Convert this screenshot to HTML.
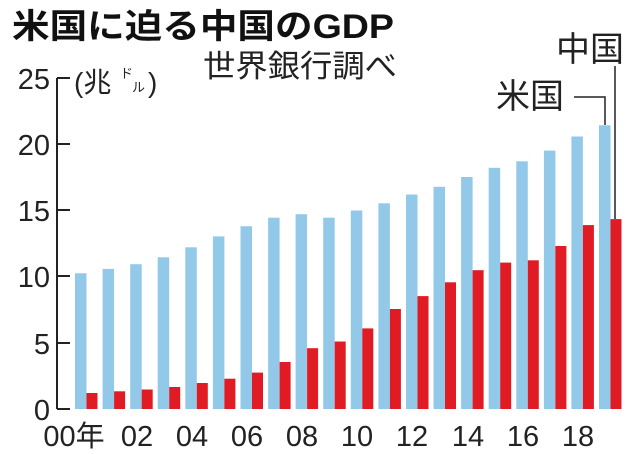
<!DOCTYPE html>
<html><head><meta charset="utf-8"><style>html,body{margin:0;padding:0;background:#fff}svg{display:block}</style></head>
<body>
<svg width="640" height="454" xmlns="http://www.w3.org/2000/svg" font-family="'Liberation Sans','Noto Sans CJK JP',sans-serif">
<rect width="640" height="454" fill="#fff"/>
<text x="12" y="38" font-size="34" font-weight="bold" textLength="382" lengthAdjust="spacingAndGlyphs" fill="#111">米国に迫る中国のGDP</text>
<text x="203" y="77" font-size="31" textLength="194" lengthAdjust="spacingAndGlyphs" fill="#222">世界銀行調べ</text>
<text x="74" y="92" font-size="28" fill="#222">(兆</text>
<text x="120" y="78" font-size="13" fill="#222">ド</text>
<text x="132" y="92" font-size="13" fill="#222">ル</text>
<text x="148" y="92" font-size="28" fill="#222">)</text>
<g font-size="29" fill="#222" text-anchor="end">
<text x="50" y="89">25</text><text x="50" y="155">20</text><text x="50" y="221">15</text><text x="50" y="287">10</text><text x="50" y="354">5</text><text x="50" y="420">0</text>
</g>
<g stroke="#222" stroke-width="2" fill="none">
<path d="M57 78 V409 M57 78 H70 M57 144 H70 M57 210 H70 M57 276 H70 M57 343 H70 M57 409 H70"/>
</g>
<g fill="#93c9e8">
<rect x="75.0" y="273.3" width="11.5" height="135.7"/>
<rect x="102.6" y="268.9" width="11.5" height="140.1"/>
<rect x="130.2" y="264.2" width="11.5" height="144.8"/>
<rect x="157.7" y="257.3" width="11.5" height="151.7"/>
<rect x="185.3" y="247.3" width="11.5" height="161.7"/>
<rect x="212.9" y="236.4" width="11.5" height="172.6"/>
<rect x="240.5" y="226.2" width="11.5" height="182.8"/>
<rect x="268.1" y="217.7" width="11.5" height="191.3"/>
<rect x="295.6" y="214.2" width="11.5" height="194.8"/>
<rect x="323.2" y="217.7" width="11.5" height="191.3"/>
<rect x="350.8" y="210.5" width="11.5" height="198.5"/>
<rect x="378.4" y="203.3" width="11.5" height="205.7"/>
<rect x="406.0" y="194.5" width="11.5" height="214.5"/>
<rect x="433.5" y="186.8" width="11.5" height="222.2"/>
<rect x="461.1" y="177.0" width="11.5" height="232.0"/>
<rect x="488.7" y="167.8" width="11.5" height="241.2"/>
<rect x="516.3" y="161.3" width="11.5" height="247.7"/>
<rect x="543.9" y="150.6" width="11.5" height="258.4"/>
<rect x="571.4" y="136.5" width="11.5" height="272.5"/>
<rect x="599.0" y="125.3" width="11.5" height="283.7"/>
</g>
<g fill="#e01b24">
<rect x="86.5" y="393.0" width="11" height="16.0"/>
<rect x="114.1" y="391.3" width="11" height="17.7"/>
<rect x="141.7" y="389.5" width="11" height="19.5"/>
<rect x="169.2" y="387.0" width="11" height="22.0"/>
<rect x="196.8" y="383.0" width="11" height="26.0"/>
<rect x="224.4" y="378.7" width="11" height="30.3"/>
<rect x="252.0" y="372.6" width="11" height="36.4"/>
<rect x="279.6" y="362.0" width="11" height="47.0"/>
<rect x="307.1" y="348.2" width="11" height="60.8"/>
<rect x="334.7" y="341.5" width="11" height="67.5"/>
<rect x="362.3" y="328.4" width="11" height="80.6"/>
<rect x="389.9" y="309.0" width="11" height="100.0"/>
<rect x="417.5" y="296.1" width="11" height="112.9"/>
<rect x="445.0" y="282.3" width="11" height="126.7"/>
<rect x="472.6" y="270.2" width="11" height="138.8"/>
<rect x="500.2" y="262.6" width="11" height="146.4"/>
<rect x="527.8" y="260.3" width="11" height="148.7"/>
<rect x="555.4" y="246.0" width="11" height="163.0"/>
<rect x="582.9" y="225.1" width="11" height="183.9"/>
<rect x="610.5" y="219.1" width="11" height="189.9"/>
</g>
<g font-size="29" fill="#222" text-anchor="middle">
<text x="74" y="446">00年</text><text x="137" y="446">02</text><text x="192" y="446">04</text><text x="247" y="446">06</text><text x="302" y="446">08</text><text x="357" y="446">10</text><text x="412" y="446">12</text><text x="468" y="446">14</text><text x="523" y="446">16</text><text x="578" y="446">18</text>
</g>
<text x="496" y="108" font-size="34" fill="#222">米国</text>
<text x="556" y="61" font-size="34" fill="#222">中国</text>
<path d="M574 97 H605 V125 M615 66 V219" stroke="#222" stroke-width="1.5" fill="none"/>
</svg>
</body></html>
